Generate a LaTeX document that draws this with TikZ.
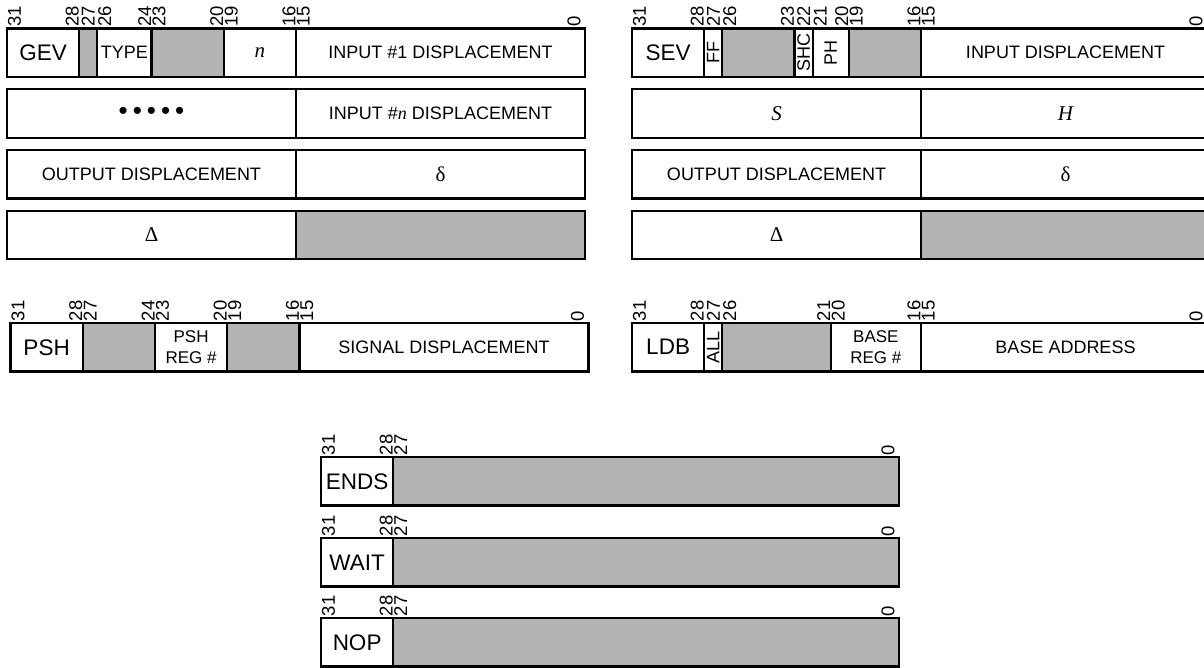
\documentclass[tikz,border=0pt]{standalone}
\usepackage{fontspec}
\setmainfont{Liberation Sans}
\newfontfamily\seriffam{Liberation Serif}
\usepackage{graphicx}
\definecolor{fieldgray}{RGB}{179,179,179}
\newcommand\opfont{\fontsize{22.5}{24}\selectfont}
\newcommand\labfont{\fontsize{18}{21}\selectfont}
\newcommand\bitfont{\fontsize{18.5}{19}\selectfont}
\newcommand\symfont{\fontsize{21}{22}\selectfont\seriffam}
\newcommand\itvar[1]{{\seriffam\itshape #1}}
\newcommand\bulletrow{{\fontsize{26}{26}\selectfont •\hspace{5pt}•\hspace{5pt}•\hspace{5pt}•\hspace{5pt}•}}
\tikzset{
  field/.style={draw=black, line width=2.2pt, inner sep=0pt, outer sep=0pt, font=\labfont, align=center},
  shaded/.style={fill=fieldgray},
  opname/.style={font=\opfont},
  bitlab/.style={inner sep=0pt, outer sep=0pt, rotate=90, font=\bitfont},
}
\def\bw{18.0625}
\def\rh{48.5}
% field: name, L, top, hibit, lobit, style, content
\newcommand\myfld[7]{%
  \pgfmathsetmacro\regxa{#2+(31-#4)*\bw}%
  \pgfmathsetmacro\regfw{(#4-#5+1)*\bw}%
  \node[field,#6,minimum width=\regfw pt,minimum height=\rh pt,anchor=north west] (#1) at (\regxa,#3) {#7};%
}
% bit labels: prefix, L, top, bit
\newcommand\bitL[4]{%
  \pgfmathsetmacro\regxa{#2+(31-#4)*\bw+1}%
  \node[bitlab,anchor=north west] (#1-b#4) at (\regxa,#3-2) {#4};}
\newcommand\bitR[4]{%
  \pgfmathsetmacro\regxa{#2+(32-#4)*\bw-0.5}%
  \node[bitlab,anchor=south west] (#1-b#4) at (\regxa,#3-2) {#4};}
\newcommand\bitC[4]{%
  \pgfmathsetmacro\regxa{#2+(31.5-#4)*\bw}%
  \node[bitlab,anchor=west] (#1-b#4) at (\regxa,#3-2) {#4};}
% zero label: prefix, x of baseline, top
\newcommand\bitZ[3]{%
  \node[bitlab,anchor=south west] (#1-b0) at (#2,#3-2) {0};}

\begin{document}
\begin{tikzpicture}[x=1pt,y=-1pt]
\useasboundingbox (0,0) rectangle (1204,667);

% ---------------- GEV ----------------
\myfld{gev-op}{7}{28.5}{31}{28}{opname}{GEV}
\myfld{gev-r27}{7}{28.5}{27}{27}{shaded}{}
\myfld{gev-type}{7}{28.5}{26}{24}{}{TYPE}
\myfld{gev-r23}{7}{28.5}{23}{20}{shaded}{}
\myfld{gev-n}{7}{28.5}{19}{16}{font=\symfont}{\itvar{n}}
\myfld{gev-in1}{7}{28.5}{15}{0}{}{INPUT \#1 DISPLACEMENT}
\bitL{gev}{7}{28.5}{31}\bitR{gev}{7}{28.5}{28}\bitC{gev}{7}{28.5}{27}
\bitL{gev}{7}{28.5}{26}\bitR{gev}{7}{28.5}{24}\bitL{gev}{7}{28.5}{23}
\bitR{gev}{7}{28.5}{20}\bitL{gev}{7}{28.5}{19}\bitR{gev}{7}{28.5}{16}
\bitL{gev}{7}{28.5}{15}\bitZ{gev}{580.5}{28.5}

\myfld{gev-dots}{7}{89.25}{31}{16}{}{\bulletrow}
\myfld{gev-inn}{7}{89.25}{15}{0}{}{INPUT \#\itvar{n} DISPLACEMENT}
\myfld{gev-out}{7}{150}{31}{16}{}{OUTPUT DISPLACEMENT}
\myfld{gev-del}{7}{150}{15}{0}{font=\symfont}{δ}
\myfld{gev-Del}{7}{210.75}{31}{16}{font=\symfont}{Δ}
\myfld{gev-r15}{7}{210.75}{15}{0}{shaded}{}

% ---------------- SEV ----------------
\myfld{sev-op}{632}{28.5}{31}{28}{opname}{SEV}
\myfld{sev-ff}{632}{28.5}{27}{27}{}{\rotatebox{90}{FF}}
\myfld{sev-r26}{632}{28.5}{26}{23}{shaded}{}
\myfld{sev-shc}{632}{28.5}{22}{22}{}{\rotatebox{90}{SHC}}
\myfld{sev-ph}{632}{28.5}{21}{20}{}{\rotatebox{90}{PH}}
\myfld{sev-r19}{632}{28.5}{19}{16}{shaded}{}
\myfld{sev-in}{632}{28.5}{15}{0}{}{INPUT DISPLACEMENT}
\bitL{sev}{632}{28.5}{31}\bitR{sev}{632}{28.5}{28}\bitC{sev}{632}{28.5}{27}
\bitL{sev}{632}{28.5}{26}\bitR{sev}{632}{28.5}{23}\bitC{sev}{632}{28.5}{22}
\bitL{sev}{632}{28.5}{21}\bitR{sev}{632}{28.5}{20}\bitL{sev}{632}{28.5}{19}
\bitR{sev}{632}{28.5}{16}\bitL{sev}{632}{28.5}{15}\bitZ{sev}{1202.5}{28.5}

\myfld{sev-s}{632}{89.25}{31}{16}{font=\symfont}{\itvar{S}}
\myfld{sev-h}{632}{89.25}{15}{0}{font=\symfont}{\itvar{H}}
\myfld{sev-out}{632}{150}{31}{16}{}{OUTPUT DISPLACEMENT}
\myfld{sev-del}{632}{150}{15}{0}{font=\symfont}{δ}
\myfld{sev-Del}{632}{210.75}{31}{16}{font=\symfont}{Δ}
\myfld{sev-r15}{632}{210.75}{15}{0}{shaded}{}

% ---------------- PSH ----------------
\myfld{psh-op}{10.5}{323}{31}{28}{opname}{PSH}
\myfld{psh-r27}{10.5}{323}{27}{24}{shaded}{}
\myfld{psh-reg}{10.5}{323}{23}{20}{font=\fontsize{17}{21}\selectfont}{PSH\\REG \#}
\myfld{psh-r19}{10.5}{323}{19}{16}{shaded}{}
\myfld{psh-sig}{10.5}{323}{15}{0}{}{SIGNAL DISPLACEMENT}
\bitL{psh}{10.5}{323}{31}\bitR{psh}{10.5}{323}{28}\bitL{psh}{10.5}{323}{27}
\bitR{psh}{10.5}{323}{24}\bitL{psh}{10.5}{323}{23}\bitR{psh}{10.5}{323}{20}
\bitL{psh}{10.5}{323}{19}\bitR{psh}{10.5}{323}{16}\bitL{psh}{10.5}{323}{15}
\bitZ{psh}{584}{323}

% ---------------- LDB ----------------
\myfld{ldb-op}{632}{323}{31}{28}{opname}{LDB}
\myfld{ldb-all}{632}{323}{27}{27}{}{\rotatebox{90}{ALL}}
\myfld{ldb-r26}{632}{323}{26}{21}{shaded}{}
\myfld{ldb-reg}{632}{323}{20}{16}{font=\fontsize{17}{21}\selectfont}{BASE\\REG \#}
\myfld{ldb-addr}{632}{323}{15}{0}{}{BASE ADDRESS}
\bitL{ldb}{632}{323}{31}\bitR{ldb}{632}{323}{28}\bitC{ldb}{632}{323}{27}
\bitL{ldb}{632}{323}{26}\bitR{ldb}{632}{323}{21}\bitL{ldb}{632}{323}{20}
\bitR{ldb}{632}{323}{16}\bitL{ldb}{632}{323}{15}\bitZ{ldb}{1202.5}{323}

% ---------------- ENDS / WAIT / NOP ----------------
\myfld{ends-op}{321}{457}{31}{28}{opname}{ENDS}
\myfld{ends-r27}{321}{457}{27}{0}{shaded}{}
\bitL{ends}{321}{457}{31}\bitR{ends}{321}{457}{28}\bitL{ends}{321}{457}{27}\bitZ{ends}{894.5}{457}

\myfld{wait-op}{321}{538}{31}{28}{opname}{WAIT}
\myfld{wait-r27}{321}{538}{27}{0}{shaded}{}
\bitL{wait}{321}{538}{31}\bitR{wait}{321}{538}{28}\bitL{wait}{321}{538}{27}\bitZ{wait}{894.5}{538}

\myfld{nop-op}{321}{618}{31}{28}{opname}{NOP}
\myfld{nop-r27}{321}{618}{27}{0}{shaded}{}
\bitL{nop}{321}{618}{31}\bitR{nop}{321}{618}{28}\bitL{nop}{321}{618}{27}\bitZ{nop}{894.5}{618}
\end{tikzpicture}
\end{document}
